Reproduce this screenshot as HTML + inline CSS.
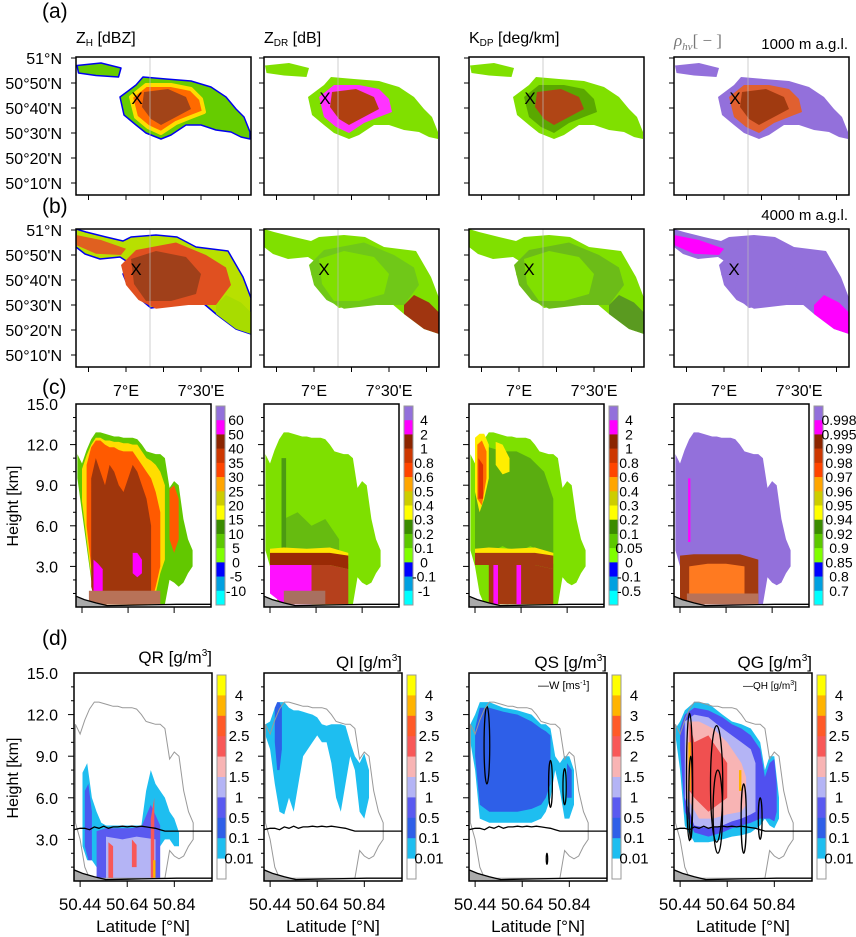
<!DOCTYPE html>
<html><head><meta charset="utf-8">
<style>
body{margin:0;background:#fff}
svg{display:block;font-family:"Liberation Sans",sans-serif}
text{fill:#000}
</style></head>
<body>
<svg id="fig" width="856" height="937" viewBox="0 0 856 937" xmlns="http://www.w3.org/2000/svg">
<rect width="856" height="937" fill="#fff"/>
<text x="42" y="18" font-size="21">(a)</text>
<text x="42" y="213" font-size="21">(b)</text>
<text x="42" y="394" font-size="21">(c)</text>
<text x="42" y="645" font-size="21">(d)</text>
<text x="76" y="43" font-size="16">Z<tspan font-size="10" dy="3">H</tspan><tspan dy="-3"> [dBZ]</tspan></text>
<text x="264" y="43" font-size="16">Z<tspan font-size="10" dy="3">DR</tspan><tspan dy="-3"> [dB]</tspan></text>
<text x="469" y="43" font-size="16">K<tspan font-size="10" dy="3">DP</tspan><tspan dy="-3"> [deg/km]</tspan></text>
<text x="674" y="46" font-size="17" font-family="Liberation Serif,serif" font-style="italic" style="fill:#777">ρ<tspan font-size="11" dy="4">hv</tspan><tspan dy="-4" font-style="normal">[ − ]</tspan></text>
<text x="848" y="49" font-size="15" text-anchor="end">1000 m a.g.l.</text>
<text x="848" y="220" font-size="15" text-anchor="end">4000 m a.g.l.</text>
<text x="212" y="663" font-size="17" text-anchor="end">QR [g/m<tspan font-size="10" dy="-7">3</tspan><tspan dy="7">]</tspan></text>
<text x="402" y="668" font-size="17" text-anchor="end">QI [g/m<tspan font-size="10" dy="-7">3</tspan><tspan dy="7">]</tspan></text>
<text x="607" y="668" font-size="17" text-anchor="end">QS [g/m<tspan font-size="10" dy="-7">3</tspan><tspan dy="7">]</tspan></text>
<text x="812" y="668" font-size="17" text-anchor="end">QG [g/m<tspan font-size="10" dy="-7">3</tspan><tspan dy="7">]</tspan></text>
<text x="538" y="689" font-size="11">—W [ms<tspan font-size="7" dy="-4">-1</tspan><tspan dy="4">]</tspan></text>
<text x="743" y="689" font-size="10">—QH [g/m<tspan font-size="7" dy="-4">3</tspan><tspan dy="4">]</tspan></text>
<text transform="translate(18,506) rotate(-90)" font-size="16" text-anchor="middle">Height [km]</text>
<text transform="translate(18,778) rotate(-90)" font-size="16" text-anchor="middle">Height [km]</text>
<g id="dyn"></g>
</svg>
<script>
// ---------- data ----------
const mapLatTicks = [60, 50, 40, 30, 20, 10];
const mapLatLabels = ["51°N", "50°50'N", "50°40'N", "50°30'N", "50°20'N", "50°10'N"];
const mapLonTicks = [45, 60, 75, 90, 105];
const mapLonLabelVals = [60, 90];
const mapLonLabels = ["7°E", "7°30'E"];
const meridianLon = 69.6;
const crossA = [64.4, 44];
const crossB = [64, 44.4];
// storm footprints (lon minutes past 6°E, lat minutes past 50°N)
const footA = [[57.6,44.4],[64,49.2],[66.8,52.4],[76,51.6],[86,50.8],[94,48.4],[100,44.4],[104,39.6],[107.2,36.4],[109.6,30.4],[109.6,27.6],[106,28.4],[102,30.4],[96,31.2],[90,33.2],[84,33.2],[78,29.2],[74,27.6],[68,30],[64,33.2],[59.2,37.2]];
const cellsA = [[40.4,57],[50,58],[58,56],[57,52.4],[48,53],[41,54]];
const midA = [[62,44.4],[68,49.2],[78,49.2],[86,47.6],[90,43.6],[91.2,38.4],[86,36.4],[80,34],[74,30],[68.8,32.4],[64,36.4]];
const coreA = [[67.2,46.4],[76.8,47.6],[84,44.4],[86,39.6],[80,36.4],[74,33.2],[70,35.6],[66.4,40.4]];
const footB = [[40,60.4],[44,59.2],[52,57.2],[58.8,55.6],[62,57.2],[72,58],[80.4,57.2],[88,53.2],[100.8,51.6],[106.8,41.2],[110,32.8],[110,18.4],[104,20.4],[96,26.4],[88.4,32.8],[80.4,30.4],[70,28.8],[65.2,32.8],[60.4,38.4],[58.8,42.4],[62,46.4],[57.6,49.2],[49.6,48.4],[43.6,50.4],[40,53.2]];
const midB = [[58,46],[64,52],[80,55],[92,50],[100,45],[102,38],[96,30],[85,30],[72,28.5],[65,32],[60,38]];
const coreB = [[62,48.4],[72,51.6],[84,49.2],[90,42.4],[88,34.4],[78,31.6],[68,31.6],[63.2,38.4]];
const bandB = [[96,26.4],[104,20.4],[110,18.4],[110,27],[106,31],[100,34],[96,30]];
const streakB = [[40,58],[50,56],[60,52.5],[58,50],[48,50.5],[40,54]];

// vertical sections
const secLat = [50.42,50.44,50.46,50.48,50.50,50.52,50.54,50.56,50.58,50.60,50.62,50.64,50.66,50.68,50.70,50.72,50.74,50.76,50.78,50.80,50.82,50.84,50.86,50.88,50.90,50.92];
const echoTop = [11.3,10.6,11.6,12.4,12.9,12.9,12.8,12.7,12.6,12.6,12.5,12.5,12.5,12.4,12.0,11.5,11.4,11.3,11.3,11.0,8.8,9.3,9.0,6.5,5.0,4.2];
const echoBot = [9.5,7.0,4.5,2.0,0.2,0.2,0.2,0.2,0.2,0.2,0.2,0.2,0.2,0.2,0.2,0.2,0.2,0.2,0.2,0.2,2.0,1.8,1.5,1.8,2.5,3.0];
const polBot = [4.2,3.0,1.0,0.2,0.2,0.2,0.2,0.2,0.2,0.2,0.2,0.2,0.2,0.2,0.2,0.2,0.2,0.2,0.2,0.2,2.2,1.8,1.6,1.8,2.5,3.0];
const fzLat = [50.414,50.44,50.46,50.48,50.50,50.52,50.54,50.56,50.58,50.60,50.62,50.64,50.66,50.68,50.70,50.72,50.74,50.76,50.78,50.80,50.84,50.90,51.0];
const fzHgt = [3.7,3.8,3.8,3.7,3.9,3.8,3.95,3.8,3.9,3.9,3.95,3.9,3.95,3.9,3.95,3.9,3.85,3.8,3.7,3.6,3.6,3.6,3.6];
const groundLat = [50.414,50.45,50.50,50.55,50.70,50.85,51.0];
const groundHgt = [0.8,0.55,0.3,0.1,0.15,0.2,0.2];
const secHTicks = [3,6,9,12,15];
const secHLabels = ["3.0","6.0","9.0","12.0","15.0"];
const secLatTicks = [50.44,50.64,50.84];
const secLatLabels = ["50.44","50.64","50.84"];

const zhYellowLat = [50.44,50.46,50.48,50.50,50.52,50.54,50.56,50.58,50.60,50.62,50.64,50.66,50.68,50.70,50.72,50.74,50.76,50.78,50.80];
const zhYellowTop = [10.2,11.2,12.0,12.5,12.5,12.3,12.3,12.2,12.2,12.1,12.1,12.0,12.0,11.5,11.0,10.8,10.5,10.0,9.0];
const zhYellowBot = [7.8,5.0,2.3,0.2,0.2,0.2,0.2,0.2,0.2,0.2,0.2,0.2,0.2,0.2,0.2,0.2,1.0,2.5,3.5];
const zhOrangeLat = [50.46,50.48,50.50,50.52,50.54,50.56,50.58,50.60,50.62,50.64,50.66,50.68,50.70,50.72,50.74,50.76,50.78];
const zhOrangeTop = [10.5,11.8,12.3,12.3,12.0,11.8,11.8,11.6,11.5,11.5,11.5,11.0,10.5,10.0,9.5,8.5,7.0];
const zhOrangeBot = [6.0,3.0,0.2,0.2,0.2,0.2,0.2,0.2,0.2,0.2,0.2,0.2,0.2,0.2,0.2,1.5,3.0];
const zhTowerLat = [50.82,50.84,50.86];
const zhTowerTop = [8.7,9.0,8.0];
const zhTowerBot = [5.0,4.0,5.0];
const zhBrownLat = [50.48,50.50,50.52,50.54,50.56,50.58,50.60,50.62,50.64,50.66,50.68,50.70,50.72,50.74];
const zhBrownTop = [9.5,11.0,10.0,9.0,10.5,10.0,9.0,8.5,9.5,10.5,10.0,9.0,8.0,6.0];
const zhBrownBot = [1.5,0.2,0.2,0.2,0.2,0.2,0.2,0.2,0.2,0.2,0.2,0.2,0.2,0.5];

const meltLat = [50.44,50.50,50.60,50.70,50.78];
const meltYTop = [4.3,4.4,4.3,4.4,4.0];
const meltYBot = [3.6,3.6,3.6,3.6,3.2];
const meltBTop = [4.0,4.0,4.0,4.0,3.8];
const meltBBot = [3.1,3.1,3.1,3.1,2.8];

const qrCyanLat = [50.45,50.47,50.49,50.51,50.53,50.55,50.60,50.65,50.70,50.72,50.74,50.76,50.78,50.80,50.82,50.84,50.86];
const qrCyanTop = [7.8,8.5,6.0,5.0,4.2,4.0,4.0,4.0,4.0,6.5,8.0,7.0,6.5,6.0,5.0,4.5,3.5];
const qrCyanBot = [2.5,1.5,1.5,1.0,0.3,0.2,0.2,0.2,0.2,0.2,0.2,2.0,2.5,3.0,3.0,2.5,2.5];
const qrBlueLat = [50.51,50.55,50.60,50.65,50.70,50.74,50.78];
const qrBlueTop = [3.6,3.8,3.8,3.8,3.9,5.5,4.0];
const qrBlueBot = [0.2,0.2,0.2,0.2,0.2,0.2,0.2];
const qiCyanLat = [50.42,50.44,50.46,50.48,50.50,50.52,50.54,50.56,50.58,50.60,50.62,50.64,50.66,50.68,50.70,50.72,50.74,50.76,50.78,50.80,50.82,50.84,50.86];
const qiCyanTop = [11.3,11.5,12.5,12.9,12.9,12.5,12.3,12.3,12.2,12.1,12.0,11.8,11.3,11.2,11.3,11.3,11.3,11.2,10.0,9.0,8.5,9.2,8.0];
const qiCyanBot = [10.5,9.5,7.0,5.0,4.8,6.0,5.0,7.0,9.0,9.5,10.0,10.5,10.0,10.0,8.5,6.0,5.0,7.0,9.0,8.0,5.0,4.5,6.0];
const qsCyanLat = [50.42,50.44,50.46,50.50,50.56,50.62,50.68,50.72,50.74,50.76,50.78,50.80,50.82,50.84,50.86];
const qsCyanTop = [11.3,12.0,12.9,12.9,12.5,12.3,12.0,11.3,11.3,11.0,9.0,8.5,9.0,9.0,8.0];
const qsCyanBot = [10.0,8.0,4.5,4.2,4.2,4.2,4.2,4.5,5.0,6.0,8.0,6.5,4.5,4.5,5.5];
const qsBlueLat = [50.44,50.46,50.50,50.56,50.62,50.68,50.72,50.74,50.76];
const qsBlueTop = [11.0,12.5,12.5,12.2,12.0,11.5,11.0,10.8,10.5];
const qsBlueBot = [9.0,5.5,5.0,5.0,5.0,5.2,5.5,6.0,7.0];
const qgCyanLat = [50.42,50.44,50.46,50.50,50.56,50.62,50.66,50.70,50.74,50.78,50.80,50.82,50.84,50.86];
const qgCyanTop = [11.0,11.5,12.3,12.9,12.8,12.0,11.5,11.3,11.0,10.0,8.0,9.0,9.0,6.0];
const qgCyanBot = [10.5,8.0,4.0,2.8,2.8,3.0,3.2,3.3,3.5,4.0,4.5,4.0,3.8,4.5];
const qgBlueLat = [50.44,50.46,50.50,50.56,50.62,50.66,50.70,50.74,50.78,50.80,50.82,50.84,50.85];
const qgBlueTop = [11.0,12.0,12.5,12.3,11.8,11.3,11.0,10.5,9.5,7.5,8.5,8.8,7.0];
const qgBlueBot = [9.5,5.0,3.5,3.2,3.5,3.8,4.0,4.2,4.5,4.5,4.5,4.3,5.0];
const qgLavLat = [50.46,50.50,50.56,50.62,50.66,50.70,50.74,50.76];
const qgLavTop = [11.5,12.0,11.8,11.0,10.5,10.0,9.5,8.5];
const qgLavBot = [6.0,4.0,3.8,4.0,4.3,4.5,4.8,5.0];
const qgPinkLat = [50.47,50.52,50.58,50.64,50.70,50.72];
const qgPinkTop = [11.5,11.5,11.0,10.0,8.5,7.5];
const qgPinkBot = [6.0,4.5,4.5,4.8,5.0,5.5];
const qgRedLat = [50.48,50.50,50.56,50.60,50.64];
const qgRedTop = [11.5,10.0,10.5,9.5,8.5];
const qgRedBot = [6.5,6.0,5.0,5.5,6.0];
// contour ellipses: [lat, height, halfLat, halfHeight]
const wContours = [[50.49,9.8,0.012,2.8],[50.76,7.0,0.008,1.7],[50.82,6.8,0.007,1.3],[50.745,1.6,0.003,0.4]];
const qhContours = [[50.48,7.5,0.013,4.6],[50.485,6.0,0.008,3.0],[50.595,7.0,0.026,4.2],[50.60,5.0,0.02,3.0],[50.71,4.5,0.011,2.5],[50.78,4.5,0.008,1.5]];

const cbColorsC = ['#9370db','#ff00ff','#8b2500','#cd3700','#ff4500','#ffa500','#cdcd00','#ffff00','#3a8c00','#5cc800','#7fff00','#0000ff','#00a0e0','#00ffff'];
const cbLabelsZh = ['60','50','40','35','30','25','20','15','10','5','0','-5','-10'];
const cbLabelsZdr = ['4','2','1','0.8','0.6','0.5','0.4','0.3','0.2','0.1','0','-0.1','-1'];
const cbLabelsKdp = ['4','2','1','0.8','0.6','0.4','0.3','0.2','0.1','0.05','0','-0.1','-0.5'];
const cbLabelsRho = ['0.998','0.995','0.99','0.98','0.97','0.96','0.95','0.94','0.92','0.9','0.85','0.8','0.7'];
const cbColorsD = ['#ffff00','#ffb300','#ff5a28','#f85858','#f8b4b4','#b4b4f5','#5a5af0','#2e5fe8','#1ebef0','#ffffff'];
const cbLabelsD = ['4','3','2.5','2','1.5','1','0.5','0.1','0.01'];

// ---------- layout ----------
const NS = 'http://www.w3.org/2000/svg';
const root = document.getElementById('dyn');
const mapCols = [76, 264, 469, 674], mapW = 175, mapH = 138;
const mapTops = [57, 229];
const secColsC = [76, 264, 469, 674], secWC = 135, topC = 404, botC = 607;
const secColsD = [74, 264, 469, 674], secWD = 138, topD = 673, botD = 881;
const latMin = 50.414, latMax = 51.0;

function mk(parent, tag, attrs) {
  const e = document.createElementNS(NS, tag);
  for (const k in attrs) e.setAttribute(k, attrs[k]);
  parent.appendChild(e);
  return e;
}
function mapX(c, lon) { return mapCols[c] + (lon - 40) * 2.5; }
function mapY(r, lat) { return mapTops[r] + (60.4 - lat) * 2.5; }
function secX(r, c, lat) { const x0 = r === 0 ? secColsC[c] : secColsD[c]; const w = r === 0 ? secWC : secWD; return x0 + (lat - latMin) / (latMax - latMin) * w; }
function secY(r, h) { const t = r === 0 ? topC : topD, b = r === 0 ? botC : botD; return b - h / 15 * (b - t); }

function mapPoly(g, r, c, pts, fill, stroke, sw, name) {
  const p = mk(g, 'polygon', { points: pts.map(q => mapX(c, q[0]).toFixed(1) + ',' + mapY(r, q[1]).toFixed(1)).join(' '), fill: fill, stroke: stroke || 'none', 'stroke-width': sw || 0, 'stroke-linejoin': 'round' });
  
  
}
function secPoly(g, r, c, lat, top, bot, fill, name) {
  const a = lat.map((l, i) => secX(r, c, l).toFixed(1) + ',' + secY(r, top[i]).toFixed(1));
  const b = lat.map((l, i) => secX(r, c, l).toFixed(1) + ',' + secY(r, bot[i]).toFixed(1)).reverse();
  const p = mk(g, 'polygon', { points: a.concat(b).join(' '), fill: fill });
  
  
}
function secLine(g, r, c, lat, h, stroke, sw, name) {
  const p = mk(g, 'polyline', { points: lat.map((l, i) => secX(r, c, l).toFixed(1) + ',' + secY(r, h[i]).toFixed(1)).join(' '), fill: 'none', stroke: stroke, 'stroke-width': sw });
  
  
}
function ellipse(g, r, c, e, name) {
  const cx = secX(r, c, e[0]), cy = secY(r, e[1]);
  const rx = secX(r, c, e[0] + e[2]) - cx, ry = cy - secY(r, e[1] + e[3]);
  const el = mk(g, 'ellipse', { cx: cx, cy: cy, rx: rx, ry: ry, fill: 'none', stroke: '#000', 'stroke-width': 1.3 });
  
  
}
function clip(id, x, y, w, h) {
  const cp = mk(root, 'clipPath', { id: id });
  mk(cp, 'rect', { x: x, y: y, width: w, height: h });
}
function txt(g, x, y, s, size, anchor, name) {
  const t = mk(g, 'text', { x: x, y: y, 'font-size': size, 'text-anchor': anchor || 'start' });
  t.textContent = s;
  
  
  return t;
}

// ---------- maps (rows a, b) ----------
const mapColors = [
  [['#66cc00','#0000ee','#ff6a00','#a24418'], ['#80e000','none','#ff33ff','#b04010'], ['#80e000','none','#5aa800','#b04515'], ['#9370db','none','#e06030','#a03a10']],
  [['#b8e000','#0000ee','#e05020','#a0401a'], ['#80e000','none','#70c818','#80e000'], ['#80e000','none','#6cbc18','#80e000'], ['#9370db','none','#9370db','#9370db']]
];
const bandColors = [['#a8dc00','#a03510'], ['#a03510','#80e000'], ['#5a9a20','#80e000'], ['#ff00ff','#9370db']];
for (let r = 0; r < 2; r++) {
  for (let c = 0; c < 4; c++) {
    const id = 'mc' + r + c;
    clip(id, mapCols[c], mapTops[r], mapW, mapH);
    const g = mk(root, 'g', { 'clip-path': 'url(#' + id + ')' });
    
    
    const cols = mapColors[r][c];
    if (r === 0) {
      mapPoly(g, r, c, footA, cols[0], cols[1], 1.5, 'storm-footprint');
      mapPoly(g, r, c, cellsA, cols[0], cols[1], 1.5, 'storm-cells');
      mapPoly(g, r, c, midA, cols[2], c === 0 ? '#ffdd00' : 'none', 4, 'storm-mid');
      mapPoly(g, r, c, coreA, cols[3], 'none', 0, 'storm-core');
    } else {
      mapPoly(g, r, c, footB, cols[0], cols[1], 1.5, 'storm-footprint');
      mapPoly(g, r, c, midB, cols[2], 'none', 0, 'storm-mid');
      mapPoly(g, r, c, coreB, cols[3], 'none', 0, 'storm-core');
      mapPoly(g, r, c, bandB, bandColors[c][0], 'none', 0, 'storm-se-band');
      mapPoly(g, r, c, streakB, c === 3 ? '#ff00ff' : (c === 0 ? '#e06020' : '#80e000'), 'none', 0, 'storm-streak');
    }
    const ml = mk(g, 'line', { x1: mapX(c, meridianLon), x2: mapX(c, meridianLon), y1: mapTops[r], y2: mapTops[r] + mapH, stroke: '#bbb', 'stroke-width': 1, opacity: 0.7 });
    
    
    const cr = r === 0 ? crossA : crossB;
    txt(g, mapX(c, cr[0]), mapY(r, cr[1]) + 6, 'X', 17, 'middle', 'radar-location-marker');
    const box = mk(root, 'rect', { x: mapCols[c], y: mapTops[r], width: mapW, height: mapH, fill: 'none', stroke: '#000', 'stroke-width': 1.5 });
    
    
    mapLatTicks.forEach((v, i) => {
      const tk = mk(root, 'line', { x1: mapCols[c] - 5, x2: mapCols[c], y1: mapY(r, v), y2: mapY(r, v), stroke: '#000', 'stroke-width': 1 });
      
      
      if (c === 0) txt(root, 62, mapY(r, v) + 6, mapLatLabels[i], 16, 'end', 'lat-tick-label');
    });
    mapLonTicks.forEach(v => {
      const tk = mk(root, 'line', { x1: mapX(c, v), x2: mapX(c, v), y1: mapTops[r] + mapH, y2: mapTops[r] + mapH + 5, stroke: '#000', 'stroke-width': 1 });
      
      
    });
    if (r === 1) mapLonLabelVals.forEach((v, i) => txt(root, mapX(c, v), 396, mapLonLabels[i], 16, 'middle', 'lon-tick-label'));
  }
}

// ---------- sections ----------
function ground(g, r, c) {
  const gl = groundLat.slice(0, 4), gh = groundHgt.slice(0, 4);
  secPoly(g, r, c, gl, gh, gl.map(() => 0), '#aaa', 'terrain-fill');
  secLine(g, r, c, groundLat, groundHgt, '#000', 1.3, 'terrain-line');
}
function frame(r, c) {
  const x0 = r === 0 ? secColsC[c] : secColsD[c], w = r === 0 ? secWC : secWD;
  const t = r === 0 ? topC : topD, b = r === 0 ? botC : botD;
  const box = mk(root, 'rect', { x: x0, y: t, width: w, height: b - t, fill: 'none', stroke: '#000', 'stroke-width': 1.5 });
  
  
  for (let h = 1; h < 15; h++) {
    const major = h % 3 === 0;
    const tk = mk(root, 'line', { x1: x0 - (major ? 6 : 3), x2: x0, y1: secY(r, h), y2: secY(r, h), stroke: '#000', 'stroke-width': 1 });
    
    
  }
  if (c === 0) secHTicks.forEach((h, i) => txt(root, 58, secY(r, h) + 6, secHLabels[i], 16, 'end', 'height-tick-label'));
  secLatTicks.forEach((l, i) => {
    const tk = mk(root, 'line', { x1: secX(r, c, l), x2: secX(r, c, l), y1: b, y2: b + 6, stroke: '#000', 'stroke-width': 1 });
    
    
    if (r === 1) txt(root, secX(r, c, l), 910, secLatLabels[i], 17, 'middle', 'latitude-tick-label');
  });
  if (r === 1) txt(root, x0 + w / 2, 932, 'Latitude [°N]', 17, 'middle', 'x-axis-title');
}
function colorbar(r, c, colors, labels, name) {
  const x0 = (r === 0 ? secColsC[c] + secWC : secColsD[c] + secWD) + 5;
  const t = r === 0 ? 406 : 675, b = r === 0 ? 605 : 879, w = 9;
  const g = mk(root, 'g', {});
  
  
  const n = colors.length, bh = (b - t) / n;
  colors.forEach((col, i) => {
    const rc = mk(g, 'rect', { x: x0, y: t + i * bh, width: w, height: bh + 0.3, fill: col });
    
    
  });
  const fr = mk(g, 'rect', { x: x0, y: t, width: w, height: b - t, fill: 'none', stroke: '#999', 'stroke-width': 1 });
  
  
  const off = r === 0 ? (c === 3 ? 25 : 20) : 22;
  labels.forEach((s, i) => txt(g, x0 + off, t + (i + 1) * bh + 5, s, r === 0 ? 14 : 15, 'middle', 'colorbar-label'));
}

// row c
for (let c = 0; c < 4; c++) {
  const id = 'sc' + c;
  clip(id, secColsC[c], topC, secWC, botC - topC);
  const g = mk(root, 'g', { 'clip-path': 'url(#' + id + ')' });
  
  
  if (c === 0) {
    secPoly(g, 0, c, secLat, echoTop, echoBot, '#62c800', 'zh-echo');
    secPoly(g, 0, c, zhYellowLat, zhYellowTop, zhYellowBot, '#ffdd00', 'zh-yellow');
    secPoly(g, 0, c, zhOrangeLat, zhOrangeTop, zhOrangeBot, '#ff5a00', 'zh-orange');
    secPoly(g, 0, c, zhTowerLat, zhTowerTop, zhTowerBot, '#ff5a00', 'zh-tower');
    secPoly(g, 0, c, zhBrownLat, zhBrownTop, zhBrownBot, '#a0360c', 'zh-brown');
    secPoly(g, 0, c, [50.49,50.51,50.53], [3.5,3.2,2.8], [1.0,1.0,1.2], '#ff00ff', 'zh-magenta');
    secPoly(g, 0, c, [50.66,50.68,50.70], [4.0,4.0,3.5], [2.5,2.2,2.5], '#ff00ff', 'zh-magenta');
    secPoly(g, 0, c, [50.47,50.78], [1.2,1.2], [0.2,0.2], '#b87258', 'zh-near-ground');
  } else if (c === 1) {
    secPoly(g, 0, c, secLat, echoTop, polBot, '#7ee000', 'zdr-echo');
    secPoly(g, 0, c, [50.50,50.56,50.62,50.68,50.74], [6.5,7.0,6.0,6.5,5.0], [4,4,4,4,4], '#66bb10', 'zdr-midgreen');
    secPoly(g, 0, c, [50.49,50.51], [11,11], [4,4], '#4c9a12', 'zdr-darkgreen');
    secPoly(g, 0, c, meltLat, meltYTop, meltYBot, '#ffe600', 'zdr-melt-yellow');
    secPoly(g, 0, c, meltLat, meltBTop, meltBBot, '#9a2a05', 'zdr-melt-brown');
    secPoly(g, 0, c, [50.44,50.50,50.56,50.62], [3.1,3.1,3.1,3.1], [1.0,0.2,0.2,0.2], '#ff10ff', 'zdr-magenta');
    secPoly(g, 0, c, [50.62,50.70,50.78], [3.1,3.1,2.8], [0.2,0.2,0.2], '#b5401c', 'zdr-low-brown');
    secPoly(g, 0, c, [50.50,50.68], [1.2,1.2], [0.2,0.2], '#a87060', 'zdr-near-ground');
  } else if (c === 2) {
    secPoly(g, 0, c, secLat, echoTop, polBot, '#7ee000', 'kdp-echo');
    secPoly(g, 0, c, [50.44,50.50,50.56,50.62,50.68,50.74,50.78], [11.5,11.8,11.5,11.5,11.0,10.0,8.0], [4.0,4.0,4.5,4.0,4.5,4.0,4.0], '#5aad10', 'kdp-darkgreen');
    secPoly(g, 0, c, [50.44,50.46,50.48,50.50], [12.5,12.8,12.8,12.0], [8.5,7.0,8.0,9.5], '#ffee00', 'kdp-yellow');
    secPoly(g, 0, c, [50.45,50.47,50.49], [12.0,12.3,11.5], [8.0,7.5,9.5], '#ff7000', 'kdp-orange');
    secPoly(g, 0, c, [50.455,50.475], [11,10.5], [8,8], '#e03000', 'kdp-red');
    secPoly(g, 0, c, [50.53,50.56,50.59], [12.2,12.0,11.0], [10.5,9.8,10.0], '#ffee00', 'kdp-yellow2');
    secPoly(g, 0, c, meltLat, meltYTop, meltYBot, '#ffe600', 'kdp-melt-yellow');
    secPoly(g, 0, c, meltLat, meltBTop, meltBBot, '#a43a10', 'kdp-melt-brown');
    secPoly(g, 0, c, [50.50,50.56,50.62,50.70,50.78], [3.1,3.1,3.1,3.1,2.8], [0.2,0.2,0.2,0.2,0.2], '#a43a10', 'kdp-low-brown');
    secPoly(g, 0, c, [50.52,50.54], [3.1,3.1], [0.2,0.2], '#ff10ff', 'kdp-magenta');
    secPoly(g, 0, c, [50.62,50.64], [3.1,3.1], [0.2,0.2], '#ff10ff', 'kdp-magenta');
  } else {
    secPoly(g, 0, c, secLat, echoTop, polBot, '#9370db', 'rho-echo');
    secPoly(g, 0, c, [50.475,50.485], [9.5,9.5], [4.8,4.8], '#ff00ff', 'rho-magenta-streak');
    secPoly(g, 0, c, [50.44,50.50,50.60,50.70,50.78], [3.8,3.9,3.9,3.9,3.5], [0.5,0.2,0.2,0.2,0.2], '#a23a10', 'rho-low-brown');
    secPoly(g, 0, c, [50.48,50.56,50.64,50.72], [3.0,3.2,3.2,3.0], [0.8,1.0,0.8,0.8], '#ff7a20', 'rho-low-orange');
    secPoly(g, 0, c, [50.47,50.78], [1.0,1.0], [0.2,0.2], '#b87258', 'rho-near-ground');
  }
  ground(g, 0, c);
  frame(0, c);
}
colorbar(0, 0, cbColorsC, cbLabelsZh, 'colorbar-zh');
colorbar(0, 1, cbColorsC, cbLabelsZdr, 'colorbar-zdr');
colorbar(0, 2, cbColorsC, cbLabelsKdp, 'colorbar-kdp');
colorbar(0, 3, cbColorsC, cbLabelsRho, 'colorbar-rhohv');

// row d
for (let c = 0; c < 4; c++) {
  const id = 'sd' + c;
  clip(id, secColsD[c], topD, secWD, botD - topD);
  const g = mk(root, 'g', { 'clip-path': 'url(#' + id + ')' });
  
  
  if (c === 0) {
    secPoly(g, 1, c, qrCyanLat, qrCyanTop, qrCyanBot, '#1ebef0', 'qr-cyan');
    secPoly(g, 1, c, [50.46,50.475,50.49], [6.5,7.0,5.0], [2.5,1.5,1.5], '#4a5af0', 'qr-blue-left');
    secPoly(g, 1, c, qrBlueLat, qrBlueTop, qrBlueBot, '#5a5af0', 'qr-blue');
    secPoly(g, 1, c, [50.55,50.62,50.68,50.76], [3.2,3.0,3.2,3.0], [0.2,0.2,0.2,0.2], '#b4b4f5', 'qr-lavender');
    secPoly(g, 1, c, [50.56,50.58], [2.8,2.5], [0.2,0.2], '#f85858', 'qr-red');
    secPoly(g, 1, c, [50.66,50.68], [3.0,2.6], [1.0,1.0], '#f85858', 'qr-red');
    secPoly(g, 1, c, [50.74,50.755], [4.5,6.0], [0.2,0.2], '#f85858', 'qr-red');
    secPoly(g, 1, c, [50.75,50.76], [1.5,1.5], [0.2,0.2], '#ffb300', 'qr-orange');
  } else if (c === 1) {
    secPoly(g, 1, c, qiCyanLat, qiCyanTop, qiCyanBot, '#1ebef0', 'qi-cyan');
    secPoly(g, 1, c, [50.46,50.47,50.48,50.49], [12.5,12.9,12.9,12.5], [10.0,8.0,8.0,9.5], '#2e5fe8', 'qi-blue');
  } else if (c === 2) {
    secPoly(g, 1, c, qsCyanLat, qsCyanTop, qsCyanBot, '#1ebef0', 'qs-cyan');
    secPoly(g, 1, c, qsBlueLat, qsBlueTop, qsBlueBot, '#2e5fe8', 'qs-blue');
    secPoly(g, 1, c, [50.83,50.85], [8.5,8.0], [6.0,6.0], '#2e5fe8', 'qs-blue-tower');
    wContours.forEach(e => ellipse(g, 1, c, e, 'w-contour'));
  } else {
    secPoly(g, 1, c, qgCyanLat, qgCyanTop, qgCyanBot, '#1ebef0', 'qg-cyan');
    secPoly(g, 1, c, qgBlueLat, qgBlueTop, qgBlueBot, '#5050f0', 'qg-blue');
    secPoly(g, 1, c, qgLavLat, qgLavTop, qgLavBot, '#b4b4f5', 'qg-lavender');
    secPoly(g, 1, c, qgPinkLat, qgPinkTop, qgPinkBot, '#f8b4b4', 'qg-pink');
    secPoly(g, 1, c, qgRedLat, qgRedTop, qgRedBot, '#f05050', 'qg-red');
    secPoly(g, 1, c, [50.475,50.485], [10,10], [6.5,6.5], '#ffb300', 'qg-orange');
    secPoly(g, 1, c, [50.69,50.70], [8.0,8.0], [6.5,6.5], '#ffb300', 'qg-orange');
    qhContours.forEach(e => ellipse(g, 1, c, e, 'qh-contour'));
  }
  const ol = mk(g, 'polygon', { points: secLat.map((l, i) => secX(1, c, l).toFixed(1) + ',' + secY(1, echoTop[i]).toFixed(1)).concat(secLat.map((l, i) => secX(1, c, l).toFixed(1) + ',' + secY(1, polBot[i]).toFixed(1)).reverse()).join(' '), fill: 'none', stroke: '#999', 'stroke-width': 1 });
  
  
  secLine(g, 1, c, fzLat, fzHgt, '#000', 1.3, 'freezing-level-line');
  ground(g, 1, c);
  frame(1, c);
  colorbar(1, c, cbColorsD, cbLabelsD, 'colorbar-' + ['qr','qi','qs','qg'][c]);
}
</script>
</body></html>
